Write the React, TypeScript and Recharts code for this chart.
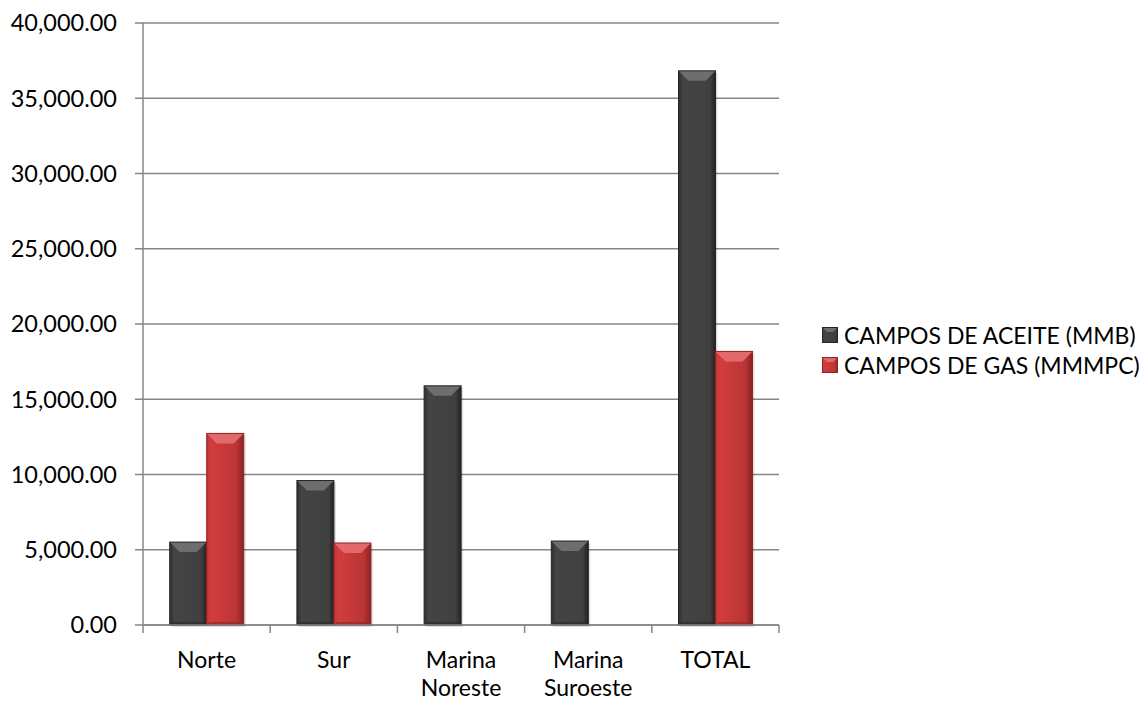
import React from 'react';
import { Bar, BarChart, CartesianGrid, Legend, XAxis, YAxis } from 'recharts';

const categories = ['Norte', 'Sur', 'Marina Noreste', 'Marina Suroeste', 'TOTAL'];
const aceite = [5510, 9600, 15890, 5580, 36820];
const gas = [12730, 5450, 0, 0, 18180];
const yTicks = [0, 5000, 10000, 15000, 20000, 25000, 30000, 35000, 40000];

const seriesNames = ['CAMPOS DE ACEITE (MMB)', 'CAMPOS DE GAS (MMMPC)'];

const data = categories.map((name, i) => ({ name, aceite: aceite[i], gas: gas[i] }));

const FONT = 'Lato, "Open Sans", sans-serif';
const AXIS = '#868686';
const W = 1145;
const H = 702;
const MARGIN = { top: 23, right: 366, bottom: 0, left: 0 };
const Y_AXIS_W = 143;
const HALF_BAND = (W - MARGIN.right - Y_AXIS_W) / categories.length / 2;

const fmt = (v: number) =>
    v.toLocaleString('en-US', { minimumFractionDigits: 2, maximumFractionDigits: 2 });

function BevelBar(props: any) {
    const { x, y, width, height, kind } = props;
    if (!height || height <= 0) return null;
    const b = Math.min(10, height / 2);
    const top = kind === 'red' ? '#e36a6a' : '#6e6e6e';
    const bottom = kind === 'red' ? '#8e2424' : '#262626';
    return (
        <g>
            <rect x={x + 2} y={y + 2} width={width} height={height} fill="#000" opacity={0.12} />
            <rect x={x} y={y} width={width} height={height} fill={`url(#grad-${kind})`} />
            <polygon
                points={`${x},${y} ${x + width},${y} ${x + width - b},${y + b} ${x + b},${y + b}`}
                fill={top}
            />
            <polygon
                points={`${x},${y + height} ${x + width},${y + height} ${x + width - 3},${y + height - 3} ${x + 3},${y + height - 3}`}
                fill={bottom}
                opacity={0.6}
            />
            <rect x={x} y={y} width={width} height={height} fill="none" stroke={bottom} strokeWidth={1} />
        </g>
    );
}

// category labels, plus the tick marks at the band edges (Excel style)
function CategoryTick(props: any) {
    const { x, y, payload, index } = props;
    const lines = String(payload.value).split(' ');
    const isLast = index === categories.length - 1;
    return (
        <g>
            <line x1={x - HALF_BAND} x2={x - HALF_BAND} y1={y} y2={y + 8} stroke={AXIS} strokeWidth={1.5} />
            {isLast && (
                <line x1={x + HALF_BAND} x2={x + HALF_BAND} y1={y} y2={y + 8} stroke={AXIS} strokeWidth={1.5} />
            )}
            <text x={x} y={y + 43} textAnchor="middle" fill="#000" fontSize={23} fontFamily={FONT}>
                {lines.map((l, i) => (
                    <tspan key={i} x={x} dy={i === 0 ? 0 : 28}>
                        {l}
                    </tspan>
                ))}
            </text>
        </g>
    );
}

function LegendBox() {
    const colors = ['dark', 'red'];
    return (
        <div style={{ fontFamily: FONT, fontSize: 23, color: '#000' }}>
            {seriesNames.map((n, i) => (
                <div key={n} style={{ display: 'flex', alignItems: 'center', height: 30 }}>
                    <svg width={16} height={16} style={{ marginRight: 6 }}>
                        <rect x={0} y={0} width={16} height={16} fill={`url(#grad-${colors[i]})`} />
                        <polygon points="0,0 16,0 11,5 5,5" fill={i === 1 ? '#e36a6a' : '#6e6e6e'} />
                        <rect x={0.5} y={0.5} width={15} height={15} fill="none" stroke={i === 1 ? '#8e2424' : '#262626'} />
                    </svg>
                    <span>{n}</span>
                </div>
            ))}
        </div>
    );
}

export default function App() {
    return (
        <div style={{ position: 'absolute', left: 0, top: 0, width: W, height: H, background: '#fff' }}>
            <BarChart width={W} height={H} data={data} margin={MARGIN} barCategoryGap="21%" barGap={0}>
                <defs>
                    <linearGradient id="grad-dark" x1="0" y1="0" x2="1" y2="0">
                        <stop offset="0%" stopColor="#2e2e2e" />
                        <stop offset="12%" stopColor="#444444" />
                        <stop offset="85%" stopColor="#404040" />
                        <stop offset="100%" stopColor="#222222" />
                    </linearGradient>
                    <linearGradient id="grad-red" x1="0" y1="0" x2="1" y2="0">
                        <stop offset="0%" stopColor="#c43434" />
                        <stop offset="12%" stopColor="#d23d3d" />
                        <stop offset="80%" stopColor="#bb3535" />
                        <stop offset="100%" stopColor="#8a2222" />
                    </linearGradient>
                </defs>
                <CartesianGrid vertical={false} stroke={AXIS} strokeWidth={1.5} />
                <XAxis
                    dataKey="name"
                    height={77}
                    interval={0}
                    axisLine={{ stroke: AXIS, strokeWidth: 1.5 }}
                    tickLine={false}
                    tickSize={0}
                    tickMargin={0}
                    tick={<CategoryTick />}
                />
                <YAxis
                    width={Y_AXIS_W}
                    domain={[0, 40000]}
                    ticks={yTicks}
                    tickFormatter={fmt}
                    axisLine={{ stroke: AXIS, strokeWidth: 1.5 }}
                    tickLine={{ stroke: AXIS, strokeWidth: 1.5 }}
                    tickSize={8}
                    tickMargin={18}
                    tick={{ fill: '#000', fontSize: 23.5, fontFamily: FONT }}
                />
                <Legend
                    layout="horizontal"
                    align="center"
                    verticalAlign="middle"
                    content={() => <LegendBox />}
                    wrapperStyle={{ left: 822, top: 320, width: 320 }}
                />
                <Bar dataKey="aceite" name={seriesNames[0]} shape={<BevelBar kind="dark" />} isAnimationActive={false} />
                <Bar dataKey="gas" name={seriesNames[1]} shape={<BevelBar kind="red" />} isAnimationActive={false} />
            </BarChart>
        </div>
    );
}
